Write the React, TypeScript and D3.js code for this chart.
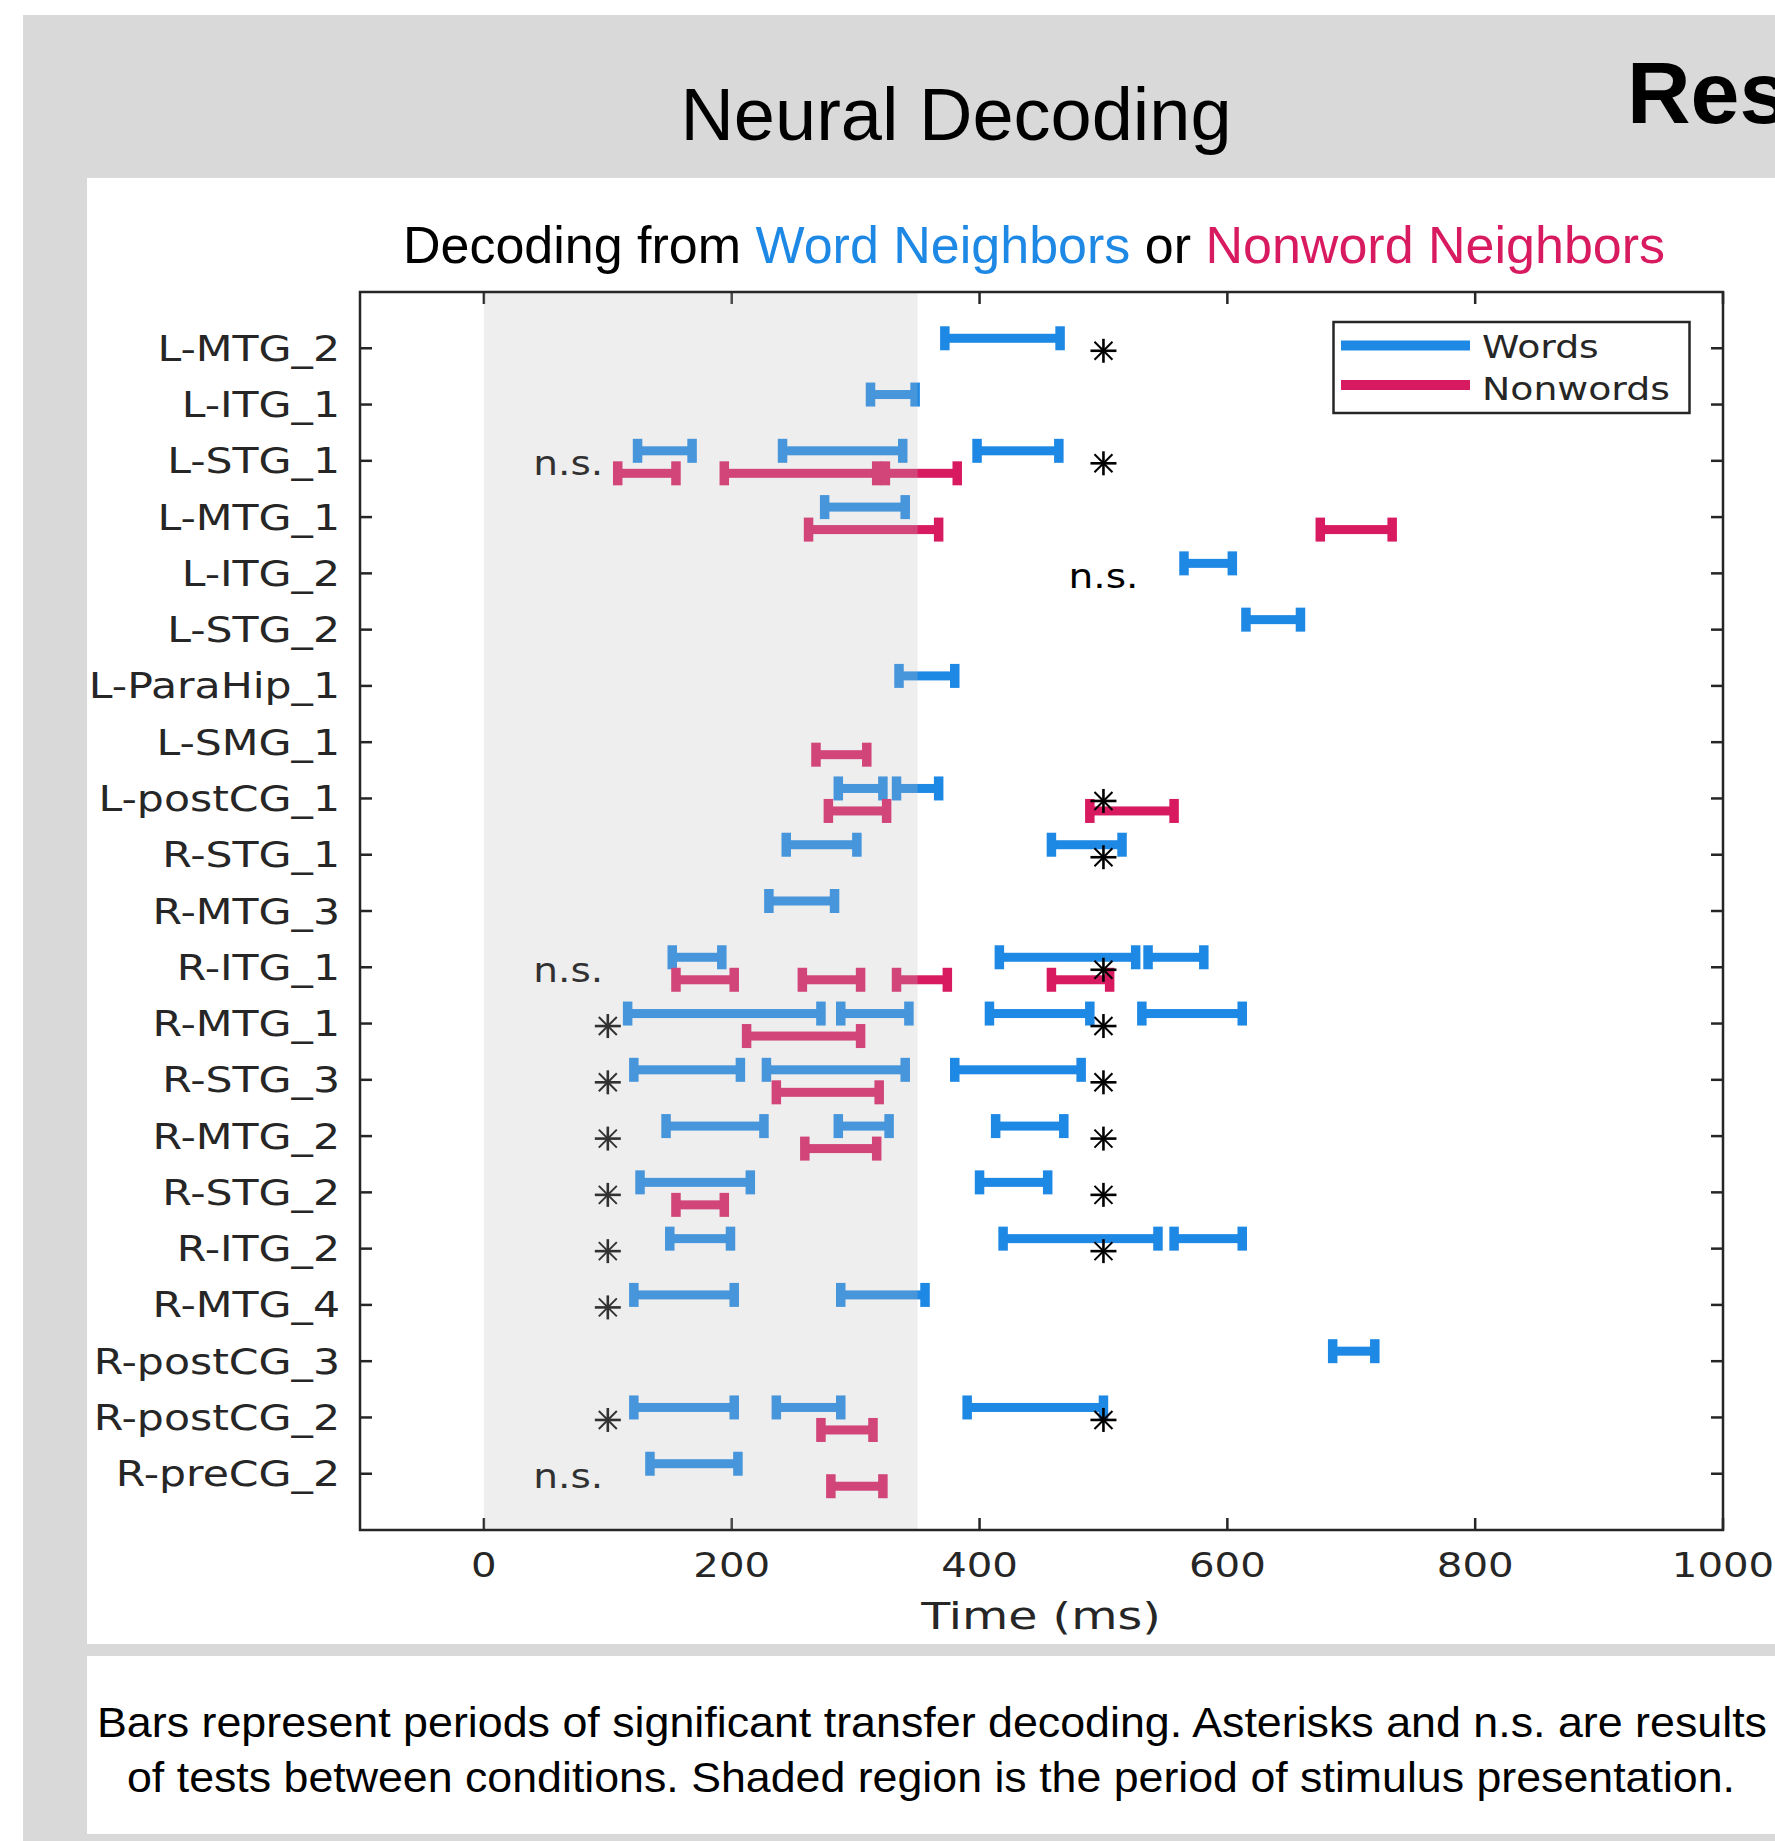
import React from "react";
import * as d3 from "d3";

// Rows, top to bottom
const regions = [
  "L-MTG_2", "L-ITG_1", "L-STG_1", "L-MTG_1", "L-ITG_2", "L-STG_2", "L-ParaHip_1",
  "L-SMG_1", "L-postCG_1", "R-STG_1", "R-MTG_3", "R-ITG_1", "R-MTG_1", "R-STG_3",
  "R-MTG_2", "R-STG_2", "R-ITG_2", "R-MTG_4", "R-postCG_3", "R-postCG_2", "R-preCG_2",
];

// [region, start ms, end ms]
const wordBars: [string, number, number][] = [
  ["L-MTG_2", 372, 465],
  ["L-ITG_1", 312, 348],
  ["L-STG_1", 124, 168], ["L-STG_1", 241, 338], ["L-STG_1", 398, 464],
  ["L-MTG_1", 275, 340],
  ["L-ITG_2", 565, 604],
  ["L-STG_2", 615, 659],
  ["L-ParaHip_1", 335, 380],
  ["L-postCG_1", 286, 322], ["L-postCG_1", 333, 367],
  ["R-STG_1", 244, 301], ["R-STG_1", 458, 515],
  ["R-MTG_3", 230, 283],
  ["R-ITG_1", 152, 192], ["R-ITG_1", 416, 526], ["R-ITG_1", 536, 581],
  ["R-MTG_1", 116, 272], ["R-MTG_1", 288, 343], ["R-MTG_1", 408, 489], ["R-MTG_1", 531, 612],
  ["R-STG_3", 121, 207], ["R-STG_3", 228, 340], ["R-STG_3", 380, 482],
  ["R-MTG_2", 147, 226], ["R-MTG_2", 286, 327], ["R-MTG_2", 413, 468],
  ["R-STG_2", 126, 215], ["R-STG_2", 400, 455],
  ["R-ITG_2", 150, 199], ["R-ITG_2", 419, 544], ["R-ITG_2", 557, 612],
  ["R-MTG_4", 121, 202], ["R-MTG_4", 288, 356],
  ["R-postCG_3", 685, 719],
  ["R-postCG_2", 121, 202], ["R-postCG_2", 236, 288], ["R-postCG_2", 390, 500],
  ["R-preCG_2", 134, 205],
];

const nonwordBars: [string, number, number][] = [
  ["L-STG_1", 108, 155], ["L-STG_1", 194, 317], ["L-STG_1", 324, 382],
  ["L-MTG_1", 262, 367], ["L-MTG_1", 675, 733],
  ["L-SMG_1", 268, 309],
  ["L-postCG_1", 278, 325], ["L-postCG_1", 489, 557],
  ["R-ITG_1", 155, 202], ["R-ITG_1", 257, 304], ["R-ITG_1", 333, 374], ["R-ITG_1", 458, 505],
  ["R-MTG_1", 212, 304],
  ["R-STG_3", 236, 319],
  ["R-MTG_2", 259, 317],
  ["R-STG_2", 155, 194],
  ["R-postCG_2", 272, 314],
  ["R-preCG_2", 280, 322],
];

// significance markers [region, ms]
const asterisks: [string, number][] = [
  ["L-MTG_2", 500], ["L-STG_1", 500], ["L-postCG_1", 500], ["R-STG_1", 500],
  ["R-ITG_1", 500], ["R-MTG_1", 100], ["R-MTG_1", 500], ["R-STG_3", 100],
  ["R-STG_3", 500], ["R-MTG_2", 100], ["R-MTG_2", 500], ["R-STG_2", 100],
  ["R-STG_2", 500], ["R-ITG_2", 100], ["R-ITG_2", 500], ["R-MTG_4", 100],
  ["R-postCG_2", 100], ["R-postCG_2", 500],
];

const notSignificant: [string, number][] = [
  ["L-STG_1", 68], ["L-ITG_2", 500], ["R-ITG_1", 68], ["R-preCG_2", 68],
];

const xTicks = [0, 200, 400, 600, 800, 1000];
const stimulusWindow = [0, 350];

const BLUE = "#1E88E5";
const RED = "#D81B60";
const AXIS = "#262626";
const MATLAB_FONT = "'DejaVu Sans', sans-serif";
const SANS = "'Liberation Sans', Arial, sans-serif";

const W = 1775;
const H = 1841;

const x = d3.scaleLinear().domain([-100, 1000]).range([360, 1723]);
const y = d3.scaleLinear().domain([0, 22]).range([292, 1530]);
const rowY = (r: string) => y(regions.indexOf(r) + 1);

function Bar({ s, e, cy, color }: { s: number; e: number; cy: number; color: string }) {
  const x1 = x(s);
  const x2 = x(e);
  return (
    <g fill={color}>
      <rect x={x1} y={cy - 4.5} width={x2 - x1} height={9} />
      <rect x={x1 - 4.75} y={cy - 12} width={9.5} height={24} />
      <rect x={x2 - 4.75} y={cy - 12} width={9.5} height={24} />
    </g>
  );
}

function Star({ cx, cy }: { cx: number; cy: number }) {
  const d = 9;
  return (
    <g stroke="#000" fill="none">
      <line x1={cx - 13} x2={cx + 13} y1={cy} y2={cy} strokeWidth={2.6} />
      <line x1={cx} x2={cx} y1={cy - 12} y2={cy + 12} strokeWidth={2.6} />
      <line x1={cx - d} x2={cx + d} y1={cy - d} y2={cy + d} strokeWidth={2} />
      <line x1={cx - d} x2={cx + d} y1={cy + d} y2={cy - d} strokeWidth={2} />
    </g>
  );
}

function SText({ tx, ty, sx, size, anchor, fill, children }: any) {
  return (
    <text
      transform={`translate(${tx},${ty}) scale(${sx},1)`}
      fontFamily={MATLAB_FONT}
      fontSize={size}
      textAnchor={anchor}
      fill={fill}
    >
      {children}
    </text>
  );
}

export default function App() {
  const [x0, x1] = x.range();
  const [y0, y1] = y.range();
  return (
    <div style={{ position: "absolute", left: 0, top: 0 }}>
      <svg width={W} height={H} style={{ display: "block" }}>
        <rect x={0} y={0} width={W} height={H} fill="#fff" />
        <rect x={23} y={15} width={W - 23} height={H - 15} fill="#D9D9D9" />
        <rect x={87} y={178} width={W - 87} height={1466} fill="#fff" />
        <rect x={87} y={1656} width={W - 87} height={178} fill="#fff" />

        <text x={956} y={140} fontFamily={SANS} fontSize={74} textAnchor="middle" fill="#000">
          Neural Decoding
        </text>
        <text x={1627} y={123} fontFamily={SANS} fontSize={88} fontWeight="bold" fill="#000">
          Results
        </text>

        <text x={1034} y={263} fontFamily={SANS} fontSize={52} textAnchor="middle" fill="#000">
          Decoding from <tspan fill={BLUE}>Word Neighbors</tspan> or{" "}
          <tspan fill={RED}>Nonword Neighbors</tspan>
        </text>

        {/* bars */}
        {wordBars.map(([r, s, e], i) => (
          <Bar key={"w" + i} s={s} e={e} cy={rowY(r) - 10} color={BLUE} />
        ))}
        {nonwordBars.map(([r, s, e], i) => (
          <Bar key={"n" + i} s={s} e={e} cy={rowY(r) + 12.5} color={RED} />
        ))}

        {asterisks.map(([r, t], i) => (
          <Star key={"a" + i} cx={x(t)} cy={rowY(r) + 2.5} />
        ))}
        {notSignificant.map(([r, t], i) => (
          <SText key={"ns" + i} tx={x(t)} ty={rowY(r) + 14.5} sx={1.15} size={34} anchor="middle" fill="#000">
            n.s.
          </SText>
        ))}

        {/* ticks */}
        <g stroke={AXIS} strokeWidth={2.5}>
          {regions.map((r) => (
            <g key={"t" + r}>
              <line x1={x0} x2={x0 + 12} y1={rowY(r)} y2={rowY(r)} />
              <line x1={x1} x2={x1 - 12} y1={rowY(r)} y2={rowY(r)} />
            </g>
          ))}
          {xTicks.map((t) => (
            <g key={"xt" + t}>
              <line x1={x(t)} x2={x(t)} y1={y0} y2={y0 + 12} />
              <line x1={x(t)} x2={x(t)} y1={y1} y2={y1 - 12} />
            </g>
          ))}
        </g>

        {/* stimulus presentation shading, drawn over the marks */}
        <rect
          x={x(stimulusWindow[0])}
          y={y0}
          width={x(stimulusWindow[1]) - x(stimulusWindow[0])}
          height={y1 - y0}
          fill="#BEBEBE"
          fillOpacity={0.26}
        />

        <rect x={x0} y={y0} width={x1 - x0} height={y1 - y0} fill="none" stroke={AXIS} strokeWidth={2.5} />

        {/* axis labels */}
        {regions.map((r) => (
          <SText key={"yl" + r} tx={340} ty={rowY(r) + 12.5} sx={1.2} size={35.5} anchor="end" fill={AXIS}>
            {r}
          </SText>
        ))}
        {xTicks.map((t) => (
          <SText key={"xl" + t} tx={x(t)} ty={1577} sx={1.22} size={33} anchor="middle" fill={AXIS}>
            {t}
          </SText>
        ))}
        <SText tx={1041} ty={1629} sx={1.25} size={38} anchor="middle" fill={AXIS}>
          Time (ms)
        </SText>

        {/* legend */}
        <rect x={1333.5} y={322} width={356} height={91} fill="#fff" stroke={AXIS} strokeWidth={2.5} />
        <line x1={1341} x2={1470} y1={345.5} y2={345.5} stroke={BLUE} strokeWidth={10} />
        <line x1={1341} x2={1470} y1={385} y2={385} stroke={RED} strokeWidth={10} />
        <SText tx={1482} ty={358} sx={1.2} size={31.5} anchor="start" fill={AXIS}>
          Words
        </SText>
        <SText tx={1482} ty={400} sx={1.2} size={31.5} anchor="start" fill={AXIS}>
          Nonwords
        </SText>

        {/* caption */}
        <text x={97} y={1737} fontFamily={SANS} fontSize={42} textLength={1670} lengthAdjust="spacingAndGlyphs" fill="#000">
          Bars represent periods of significant transfer decoding. Asterisks and n.s. are results
        </text>
        <text x={127} y={1792} fontFamily={SANS} fontSize={42} textLength={1608} lengthAdjust="spacingAndGlyphs" fill="#000">
          of tests between conditions. Shaded region is the period of stimulus presentation.
        </text>
      </svg>
    </div>
  );
}
